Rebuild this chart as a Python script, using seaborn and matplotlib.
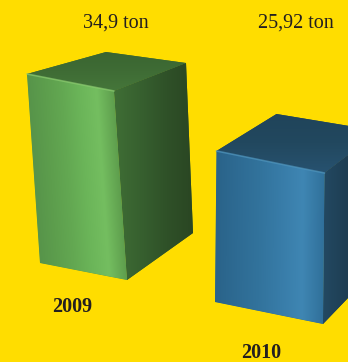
import numpy as np
import matplotlib
matplotlib.use("Agg")
import matplotlib.pyplot as plt
import pandas as pd
import seaborn as sns
from matplotlib.transforms import Affine2D
from matplotlib.patches import Polygon
from matplotlib.colors import LinearSegmentedColormap

# --- data -------------------------------------------------------------
years = ["2009", "2010"]
tonnes = [34.9, 25.92]
value_labels = ["34,9 ton", "25,92 ton"]

# --- style ------------------------------------------------------------
BG = "#ffdd00"
TEXT = "#231f20"
front_colors = ["#5c9b4a", "#2f6c93"]
front_stops = [["#57944a", "#5d9e4d", "#63a852", "#6bb559", "#74be60", "#5e9e4d"],
               ["#2a6389", "#2e6b93", "#32739c", "#387ca8", "#3f86b3", "#30709a"]]
side_stops = [["#3f6e35", "#37602f", "#2f5128", "#2a4623"],
              ["#234962", "#1f4056", "#1c384b", "#1a3345"]]
top_stops = [["#3a6531", "#3f6c35", "#45763a"],
             ["#20445a", "#22485f", "#275270"]]
edge_light = ["#8acb72", "#4d94c0"]

# --- projection of each box (pixel frame, y pointing down) ------------
# base: front-bottom-left corner, width: front bottom edge,
# rise: direction of one tonne, depth: receding vectors (TL, TR, BR)
base = [(40, 263), (215, 302)]
width_vec = [(87, 17), (108, 22)]
rise_per_tonne = [(-13 / 34.9, -189 / 34.9), (1.5 / 25.92, -151 / 25.92)]
depth = [[(79, -22), (72, -28), (66, -47)],
         [(60, -37), (55, -42), (50, -52)]]
value_label_pos = [(116, 23), (296, 23)]
year_label_pos = [(72, 307), (261, 353)]

W_PX, H_PX = 348, 362

sns.set_theme(style="white")
plt.rcParams["font.family"] = ["Liberation Serif", "DejaVu Serif"]

fig = plt.figure(figsize=(W_PX / 100, H_PX / 100), dpi=100, facecolor=BG)
ax = fig.add_axes([0, 0, 1, 1])

df = pd.DataFrame({"year": years, "tonnes": tonnes})
sns.barplot(data=df, x="year", y="tonnes", hue="year", palette=front_colors,
            saturation=1, legend=False, width=0.8, ax=ax, linewidth=0)

bars = sorted(ax.patches, key=lambda p: p.get_x())

ax.set_xlim(0, W_PX)
ax.set_ylim(H_PX, 0)
ax.axis("off")


def ramp(stops, horizontal=True):
    cmap = LinearSegmentedColormap.from_list("g", stops)
    grad = np.linspace(0, 1, 256)
    return (grad[None, :] if horizontal else grad[:, None]), cmap


def gradient_fill(pts, stops, clip, zorder, horizontal=True):
    pts = np.asarray(pts, float)
    x0, y0 = pts.min(axis=0)
    x1, y1 = pts.max(axis=0)
    img, cmap = ramp(stops, horizontal)
    im = ax.imshow(img, cmap=cmap, extent=(x0, x1, y1, y0), origin="upper",
                   aspect="auto", zorder=zorder, interpolation="bilinear")
    im.set_clip_path(clip)
    return im


for i, p in enumerate(bars):
    x0, w, h = p.get_x(), p.get_width(), p.get_height()
    bx, by = base[i]
    wx, wy = width_vec[i]
    rx, ry = rise_per_tonne[i]
    M = np.array([[wx / w, rx, bx - x0 * wx / w],
                  [wy / w, ry, by - x0 * wy / w],
                  [0, 0, 1]])
    T = Affine2D(M)
    p.set_transform(T + ax.transData)
    p.set_zorder(2)

    BL, BR, TR, TL = T.transform([(x0, 0), (x0 + w, 0), (x0 + w, h), (x0, h)])
    d_tl, d_tr, d_br = (np.array(d) for d in depth[i])

    top = [TL, TR, TR + d_tr, TL + d_tl]
    side = [TR, BR, BR + d_br, TR + d_tr]

    top_patch = Polygon(top, closed=True, facecolor=top_stops[i][1],
                        edgecolor="none", zorder=1)
    side_patch = Polygon(side, closed=True, facecolor=side_stops[i][1],
                         edgecolor="none", zorder=1)
    ax.add_patch(top_patch)
    ax.add_patch(side_patch)

    # shading of the front face, laid out in the bar's own frame
    front_clip = Polygon([BL, BR, TR, TL], closed=True, transform=ax.transData)
    img, cmap = ramp(front_stops[i])
    im = ax.imshow(img, cmap=cmap, extent=(x0, x0 + w, 0, h), origin="lower",
                   aspect="auto", zorder=2.5, interpolation="bilinear",
                   transform=T + ax.transData)
    im.set_clip_path(front_clip)

    gradient_fill(side, side_stops[i], side_patch, 1.5)
    gradient_fill(top, top_stops[i], top_patch, 1.5, horizontal=False)

    # soft highlight along the front top edge
    ax.plot([TL[0], TR[0]], [TL[1], TR[1]], color=edge_light[i], lw=1.2,
            alpha=0.7, solid_capstyle="round", zorder=3)

    ax.text(*value_label_pos[i], value_labels[i], ha="center", va="center",
            fontsize=14.5, color=TEXT, zorder=4)
    ax.text(*year_label_pos[i], years[i], ha="center", va="center",
            fontsize=14.5, fontweight="bold", color=TEXT, zorder=4)

ax.set_xlim(0, W_PX)
ax.set_ylim(H_PX, 0)

fig.savefig("out.png", dpi=100, facecolor=BG)
